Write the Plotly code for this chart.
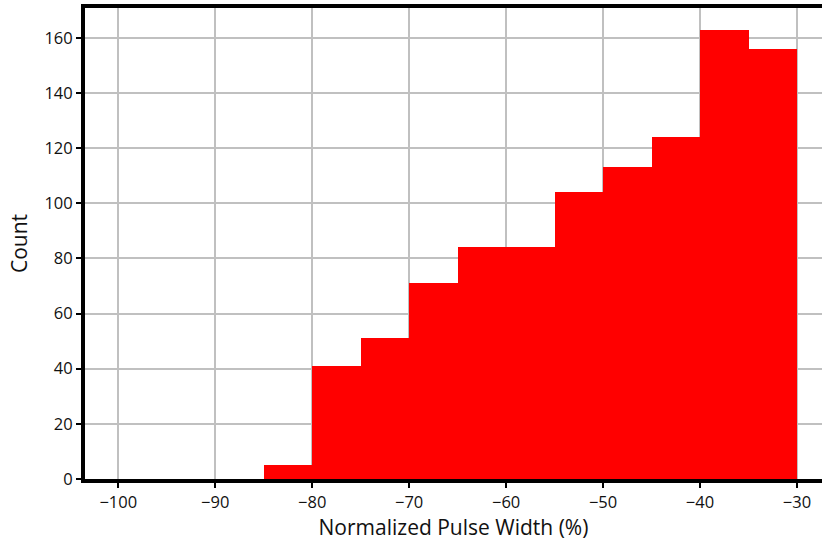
import plotly.graph_objects as go

bin_left = [-100, -95, -90, -85, -80, -75, -70, -65, -60, -55, -50, -45, -40, -35]
counts = [0, 0, 0, 5, 41, 51, 71, 84, 84, 104, 113, 124, 163, 156]
bin_width = 5
x_ticks = [-100, -90, -80, -70, -60, -50, -40, -30]
y_ticks = [0, 20, 40, 60, 80, 100, 120, 140, 160]

centers = [b + bin_width / 2 for b in bin_left]

fig = go.Figure(go.Bar(
    x=centers, y=counts, width=bin_width,
    marker=dict(color="#ff0000", line=dict(width=0)),
))

font = "Open Sans"
fig.update_layout(
    width=822, height=543,
    margin=dict(l=85, r=0, t=8, b=64),
    paper_bgcolor="white", plot_bgcolor="white",
    showlegend=False,
    bargap=0,
    font=dict(family=font, size=16.5, color="#111111"),
    xaxis=dict(
        range=[-103.43, -27.42],
        tickvals=x_ticks, ticktext=["\u2212" + str(abs(v)) for v in x_ticks],
        showgrid=True, gridcolor="#c0c0c0", gridwidth=2,
        showline=True, linecolor="black", linewidth=4, mirror=True,
        ticks="outside", ticklen=5, tickwidth=1.5, tickcolor="black",
        zeroline=False,
        title=dict(text="Normalized Pulse Width (%)", font=dict(size=21), standoff=4),
    ),
    yaxis=dict(
        range=[0, 170.8],
        tickvals=y_ticks,
        showgrid=True, gridcolor="#c0c0c0", gridwidth=2,
        showline=True, linecolor="black", linewidth=4, mirror=False,
        ticks="outside", ticklen=5, tickwidth=1.5, tickcolor="black",
        zeroline=False,
        title=dict(text="Count", font=dict(size=21), standoff=12),
    ),
)

fig.write_html("out.html")
